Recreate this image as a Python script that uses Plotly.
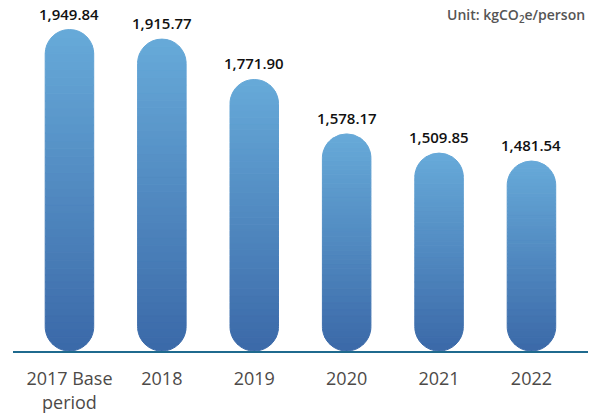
import plotly.graph_objects as go
import numpy as np

categories = ["2017 Base<br>period", "2018", "2019", "2020", "2021", "2022"]
values = [1949.84, 1915.77, 1771.90, 1578.17, 1509.85, 1481.54]
value_labels = ["1,949.84", "1,915.77", "1,771.90", "1,578.17", "1,509.85", "1,481.54"]
unit_text = "Unit: kgCO<sub>2</sub>e/person"

AXIS_MIN = 805.0      # value at the baseline line
PIVOT = 1100.0        # stack pivot (for rounding both ends)
TOP_COLOR = np.array([0x67, 0xaa, 0xd9])
BOT_COLOR = np.array([0x3b, 0x69, 0xa8])
N_UP, N_DOWN = 30, 12

x = list(range(len(categories)))
vals = np.array(values)

def col(frac):
    c = BOT_COLOR + (TOP_COLOR - BOT_COLOR) * frac
    return "rgb(%d,%d,%d)" % tuple(np.round(c).astype(int))

fig = go.Figure()
heights = vals - AXIS_MIN
seg_d = (PIVOT - AXIS_MIN) / N_DOWN
for k in range(N_DOWN):
    lo = PIVOT - (k + 1) * seg_d
    mid = lo + seg_d / 2
    colors = [col((mid - AXIS_MIN) / h) for h in heights]
    fig.add_trace(go.Bar(x=x, y=[-seg_d] * len(x),
                         marker=dict(color=colors, line=dict(width=1, color=colors)),
                         width=0.525, showlegend=False, hoverinfo="skip"))
for k in range(N_UP):
    segs = (vals - PIVOT) / N_UP
    mids = PIVOT + (k + 0.5) * segs
    colors = [col((m - AXIS_MIN) / h) for m, h in zip(mids, heights)]
    fig.add_trace(go.Bar(x=x, y=list(segs),
                         marker=dict(color=colors, line=dict(width=1, color=colors)),
                         width=0.525, showlegend=False, hoverinfo="skip"))

for xi, v, t in zip(x, values, value_labels):
    fig.add_annotation(x=xi, y=v - PIVOT, text=t, showarrow=False, yanchor="bottom", yshift=4,
                       font=dict(family="Open Sans", size=15, color="#111111", weight=600))

fig.add_annotation(xref="paper", yref="paper", x=1.0, y=1.0, xanchor="right", yanchor="top",
                   text=unit_text, showarrow=False, yshift=-3, xshift=-1,
                   font=dict(family="Open Sans", size=14, color="#555555", weight=600))

fig.update_layout(
    width=598, height=415, barmode="relative", barcornerradius="50%",
    margin=dict(l=13, r=10, t=0, b=64, autoexpand=False),
    paper_bgcolor="white", plot_bgcolor="white", hovermode=False,
    xaxis=dict(tickmode="array", tickvals=x, ticktext=categories, range=[-0.611, 5.612],
               showgrid=False, zeroline=False, showline=True, linecolor="#1f6a8e", linewidth=1.5,
               ticks="", tickfont=dict(family="Open Sans", size=18, color="#4d4a48", weight=500),
               ticklabelstandoff=11, automargin=False),
    yaxis=dict(range=[AXIS_MIN - PIVOT, AXIS_MIN - PIVOT + 351 / 0.2808], visible=False,
               showgrid=False, zeroline=False, automargin=False),
)
fig.write_html("out.html", config={"displayModeBar": False},
               post_script="document.body.style.margin='0';document.body.style.overflow='hidden';")
